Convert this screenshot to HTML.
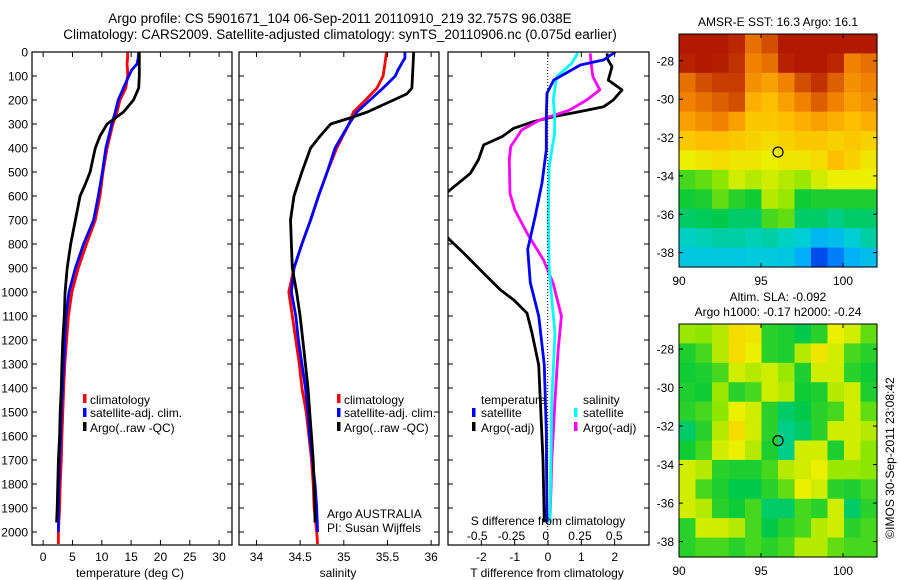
<!DOCTYPE html>
<html><head><meta charset="utf-8"><style>
html,body{margin:0;padding:0;background:#fff;}
svg{display:block;font-family:"Liberation Sans",sans-serif;}
</style></head><body>
<svg id="fig" width="900" height="580" viewBox="0 0 900 580" xmlns="http://www.w3.org/2000/svg">
<rect width="900" height="580" fill="#fff"/>
<text x="340" y="23" font-size="13.5" text-anchor="middle">Argo profile: CS 5901671_104 06-Sep-2011 20110910_219 32.757S 96.038E</text>
<text x="340" y="39" font-size="13.5" text-anchor="middle">Climatology: CARS2009. Satellite-adjusted climatology: synTS_20110906.nc (0.075d earlier)</text>
<g id="g"></g>
</svg>
<script>
// ---------- data ----------
const depthClim = [0,25,50,75,100,150,200,250,300,400,500,600,700,800,900,1000,1100,1200,1300,1400,1500,1600,1700,1800,1900,2000,2050];
const tempClim  = [14.4,14.4,14.3,14.4,14.4,14.1,13.1,12.6,11.9,10.9,10.2,9.7,8.9,7.4,6.0,4.9,4.3,4.0,3.7,3.5,3.35,3.2,3.1,2.9,2.8,2.6,2.6];
const depthSat  = [0,25,50,75,100,150,200,250,300,400,500,600,700,800,900,1000,1100,1200,1300,1400,1500,1600,1700,1800,1900,2000];
const tempSat   = [16.3,16.2,16.0,15.1,14.6,13.7,12.8,12.3,11.7,10.7,10.1,9.4,8.6,6.9,5.5,4.4,3.9,3.7,3.5,3.3,3.1,3.0,2.8,2.7,2.6,2.6];
const depthArgo = [0,50,100,150,200,250,300,350,400,500,550,600,700,800,900,1000,1100,1200,1300,1400,1500,1600,1700,1800,1900,1960];
const tempArgo  = [16.4,16.4,16.4,16.3,15.4,13.7,10.9,9.7,8.9,8.0,7.2,6.3,5.5,4.7,4.1,3.75,3.6,3.35,3.2,3.1,2.9,2.8,2.6,2.5,2.4,2.3];
const salClim   = [35.49,35.48,35.47,35.46,35.45,35.38,35.25,35.11,35.06,34.92,34.81,34.71,34.62,34.52,34.43,34.37,34.41,34.45,34.49,34.52,34.57,34.60,34.63,34.65,34.66,34.69,34.70];
const salSat    = [35.70,35.70,35.66,35.62,35.59,35.45,35.30,35.15,35.06,34.90,34.81,34.71,34.62,34.52,34.43,34.40,34.45,34.48,34.52,34.56,34.59,34.61,34.64,34.67,34.69,34.70];
const depthSalArgo = [0,150,175,200,250,275,300,350,400,500,600,700,800,900,1000,1100,1200,1300,1400,1500,1600,1700,1800,1900,1960];
const salArgo   = [35.80,35.78,35.72,35.57,35.27,35.07,34.85,34.73,34.62,34.52,34.43,34.39,34.40,34.41,34.46,34.50,34.53,34.56,34.59,34.61,34.63,34.65,34.66,34.67,34.67];
const depthTdArgo = [6,33,61,117,158,200,228,248,269,290,318,353,387,450,506,582,650,700,776,838,922,991,1033,1088,1171,1304,1450,1700,1960];
const tDiffArgo   = [1.77,1.8,1.92,1.81,2.22,1.96,1.67,0.97,0.17,-0.43,-1.03,-1.38,-1.93,-2.09,-2.33,-3.0,-3.3,-3.3,-3.0,-2.53,-1.93,-1.43,-1.03,-0.63,-0.48,-0.28,-0.23,-0.15,-0.11];
const depthTdSat = [0,33,54,117,172,269,408,546,683,822,961,1017,1100,1304,1583,1960];
const tDiffSat   = [2.02,1.67,0.97,0.17,-0.03,-0.05,-0.05,-0.18,-0.38,-0.61,-0.53,-0.43,-0.28,-0.11,-0.05,-0.03];
const depthSdSat = [4,47,103,200,256,339,478,686,894,1000,1171,1450,1960];
const sDiffSat   = [0.22,0.175,0.066,0.04,0.05,0.05,0.01,0.005,0.01,0.025,0.053,0.03,0.017];
const depthSdArgo = [6,61,103,158,200,242,283,325,394,450,589,658,756,867,964,1010,1100,1240,1450,1700,1960];
const sDiffArgo   = [0.31,0.32,0.33,0.38,0.285,0.16,-0.056,-0.19,-0.27,-0.28,-0.275,-0.24,-0.15,-0.03,0.04,0.06,0.10,0.077,0.053,0.03,0.017];
const depthTicks = [0,100,200,300,400,500,600,700,800,900,1000,1100,1200,1300,1400,1500,1600,1700,1800,1900,2000];
const tempTicks = [0,5,10,15,20,25,30];
const salTicks = [34,34.5,35,35.5,36];
const tdTicks = [-2,-1,0,1,2];
const sdTickLabels = ["-0.5","-0.25","0","0.25","0.5"];
const sdTicks = [-0.5,-0.25,0,0.25,0.5];
const lonTicks = [90,95,100];
const latTicks = [-28,-30,-32,-34,-36,-38];
// SST map values (colormap index 0..1), rows top(north) to bottom, 12 cols lon 90..102
const sstGrid = [
[.95,.95,.95,.92,.82,.86,.95,.95,.95,.95,.95,.95],
[.93,.95,.94,.9,.8,.82,.93,.95,.95,.92,.8,.82],
[.82,.86,.88,.88,.78,.76,.8,.86,.9,.84,.78,.8],
[.8,.82,.84,.86,.74,.72,.76,.8,.84,.8,.76,.78],
[.76,.78,.8,.76,.7,.7,.72,.74,.76,.74,.72,.74],
[.7,.72,.72,.7,.68,.66,.68,.7,.7,.68,.7,.68],
[.62,.64,.66,.64,.64,.62,.64,.64,.66,.72,.68,.64],
[.5,.52,.55,.6,.58,.6,.58,.56,.6,.62,.62,.62],
[.46,.47,.52,.48,.46,.58,.56,.46,.47,.47,.47,.47],
[.42,.43,.44,.42,.42,.5,.52,.42,.42,.4,.42,.42],
[.36,.37,.38,.38,.37,.38,.36,.34,.28,.3,.34,.38],
[.32,.32,.32,.32,.33,.33,.32,.26,.14,.2,.27,.3]];
const slaGrid = [
[.56,.55,.58,.66,.64,.48,.47,.44,.48,.62,.6,.52],
[.47,.5,.58,.66,.62,.48,.47,.58,.64,.6,.5,.48],
[.46,.47,.5,.6,.58,.6,.56,.47,.6,.6,.48,.46],
[.47,.46,.56,.48,.5,.6,.58,.46,.47,.58,.6,.47],
[.48,.5,.55,.62,.6,.48,.42,.44,.48,.5,.6,.52],
[.42,.48,.58,.66,.6,.48,.4,.42,.48,.6,.6,.58],
[.46,.5,.6,.62,.58,.47,.4,.6,.6,.47,.6,.55],
[.6,.58,.48,.47,.47,.5,.58,.6,.62,.56,.56,.55],
[.6,.5,.47,.44,.44,.48,.52,.62,.6,.48,.47,.5],
[.6,.58,.48,.46,.5,.42,.42,.5,.48,.6,.42,.48],
[.48,.6,.6,.58,.5,.44,.48,.5,.58,.6,.48,.5],
[.48,.5,.5,.48,.5,.48,.5,.58,.58,.52,.5,.5]];

// ---------- helpers ----------
const NS="http://www.w3.org/2000/svg";
const G=document.getElementById('g');
function mk(tag,attrs,parent){const e=document.createElementNS(NS,tag);for(const k in attrs)e.setAttribute(k,attrs[k]);(parent||G).appendChild(e);return e;}
function txt(x,y,s,size,anchor,parent){const t=mk('text',{x:x,y:y,'font-size':size,'text-anchor':anchor||'start'},parent);t.textContent=s;return t;}
const yTop=52, yScale=0.24;
function yD(d){return yTop+d*yScale;}
const P1={x0:32,x1:232,v0:-1.9,v1:32.2};
const P2={x0:239,x1:439,v0:33.8,v1:36.09};
const P3={x0:448,x1:649,v0:-3,v1:3.03};
const PS={v0:-0.585,v1:0.88}; // s diff scale on panel 3 (137 px/unit, zero at 547.7)
function sx(p,v){return p.x0+(v-p.v0)/(p.v1-p.v0)*(p.x1-p.x0);}
function sdx(v){return 547.7+v*137;}
const FT=52, FB=545;

function frame(p,name){
  const r=mk('rect',{x:p.x0,y:FT,width:p.x1-p.x0,height:FB-FT,fill:'none',stroke:'#000','stroke-width':1.2});
  
  
  depthTicks.forEach(d=>{const y=yD(d);
    mk('line',{x1:p.x0,y1:y,x2:p.x0+5,y2:y,stroke:'#000'});
    mk('line',{x1:p.x1,y1:y,x2:p.x1-5,y2:y,stroke:'#000'});});
}
function profile(p,vals,depths,color,name,fx){
  const pts=vals.map((v,i)=>(fx?fx(v):sx(p,v)).toFixed(1)+','+yD(depths[i]).toFixed(1)).join(' ');
  const l=mk('polyline',{points:pts,fill:'none',stroke:color,'stroke-width':2.8,'stroke-linejoin':'round'},p.clip);
  
  
}
// clip paths
const defs=mk('defs',{});
[P1,P2,P3].forEach((p,i)=>{const c=mk('clipPath',{id:'c'+i},defs);mk('rect',{x:p.x0,y:FT,width:p.x1-p.x0,height:FB-FT},c);
  p.clip=mk('g',{'clip-path':'url(#c'+i+')'});});

// panel 1
frame(P1,'temperature-panel');
tempTicks.forEach(t=>{const x=sx(P1,t);mk('line',{x1:x,y1:FB,x2:x,y2:FB-5,stroke:'#000'});mk('line',{x1:x,y1:FT,x2:x,y2:FT+5,stroke:'#000'});
  const l=txt(x,561,String(t),12,'middle');});
depthTicks.forEach(d=>{const l=txt(28,yD(d)+4.5,String(d),12,'end');});
profile(P1,tempClim,depthClim,'#f00','temp-climatology-line');
profile(P1,tempSat,depthSat,'#00f','temp-satellite-line');
profile(P1,tempArgo,depthArgo,'#000','temp-argo-line');
// panel 2
frame(P2,'salinity-panel');
salTicks.forEach(t=>{const x=sx(P2,t);mk('line',{x1:x,y1:FB,x2:x,y2:FB-5,stroke:'#000'});mk('line',{x1:x,y1:FT,x2:x,y2:FT+5,stroke:'#000'});
  const l=txt(x,561,String(t),12,'middle');});
profile(P2,salClim,depthClim,'#f00','sal-climatology-line');
profile(P2,salSat,depthSat,'#00f','sal-satellite-line');
profile(P2,salArgo,depthSalArgo,'#000','sal-argo-line');
// panel 3
frame(P3,'difference-panel');
mk('line',{x1:547.7,y1:FT,x2:547.7,y2:FB,stroke:'#000','stroke-width':1,'stroke-dasharray':'1,2'});
tdTicks.forEach(t=>{const x=sx(P3,t);mk('line',{x1:x,y1:FB,x2:x,y2:FB-5,stroke:'#000'});mk('line',{x1:x,y1:FT,x2:x,y2:FT+5,stroke:'#000'});
  const l=txt(x,561,String(t),12,'middle');});
sdTicks.forEach((t,i)=>{const l=txt(sdx(t)-2,540,sdTickLabels[i],12,'middle');});
profile(P3,tDiffArgo,depthTdArgo,'#000','tdiff-argo-line',v=>sx(P3,v));
profile(P3,sDiffArgo,depthSdArgo,'#f0f','sdiff-argo-line',sdx);
profile(P3,sDiffSat,depthSdSat,'#0ff','sdiff-satellite-line',sdx);
profile(P3,tDiffSat,depthTdSat,'#00f','tdiff-satellite-line',v=>sx(P3,v));

// colormap
const stops=[[0,[10,10,150]],[.15,[0,80,240]],[.25,[0,170,255]],[.35,[0,210,210]],[.45,[0,200,60]],[.55,[140,230,0]],[.62,[235,240,0]],[.72,[255,190,0]],[.8,[240,130,0]],[.88,[200,60,0]],[1,[160,0,0]]];
function cmap(v){for(let i=1;i<stops.length;i++){if(v<=stops[i][0]){const a=stops[i-1],b=stops[i],f=(v-a[0])/(b[0]-a[0]);
  return 'rgb('+a[1].map((c,k)=>Math.round(c+(b[1][k]-c)*f)).join(',')+')';}}return 'rgb(160,0,0)';}
function map(grid,X0,X1,Y0,Y1,latTop,latBot,name,circLat){
  const cg=mk('g',{});
  const rows=grid.length,cols=grid[0].length,cw=(X1-X0)/cols,ch=(Y1-Y0)/rows;
  grid.forEach((r,i)=>r.forEach((v,j)=>{const c=mk('rect',{x:X0+j*cw,y:Y0+i*ch,width:cw+0.6,height:ch+0.6,fill:cmap(v)},cg);
    }));
  mk('rect',{x:X0,y:Y0,width:X1-X0,height:Y1-Y0,fill:'none',stroke:'#000'});
  const lx=v=>X0+(v-90)*16.4, ly=v=>Y0+(latTop-v)/(latTop-latBot)*(Y1-Y0);
  lonTicks.forEach(t=>{const x=lx(t);mk('line',{x1:x,y1:Y0,x2:x,y2:Y0+4,stroke:'#000'});mk('line',{x1:x,y1:Y1,x2:x,y2:Y1-4,stroke:'#000'});
    const l=txt(x,Y1+18,String(t),12,'middle');});
  latTicks.forEach(t=>{const y=ly(t);mk('line',{x1:X0,y1:y,x2:X0+4,y2:y,stroke:'#000'});mk('line',{x1:X1,y1:y,x2:X1-4,y2:y,stroke:'#000'});
    const l=txt(X0-5,y+4.5,String(t),12,'end');});
  const c=mk('circle',{cx:lx(96.038),cy:ly(-32.757),r:5,fill:'none',stroke:'#000','stroke-width':1.2});
  
}
map(sstGrid,679,877,34,267,-26.6,-38.75,'sst-map');
map(slaGrid,679,877,324,557,-26.7,-38.8,'sla-map');
</script>
<svg style="position:absolute;left:0;top:0" width="900" height="580" xmlns="http://www.w3.org/2000/svg" font-family="Liberation Sans, sans-serif" font-size="12">
<text x="778" y="26" text-anchor="middle">AMSR-E SST: 16.3 Argo: 16.1</text>
<text x="778" y="301" text-anchor="middle">Altim. SLA: -0.092</text>
<text x="778" y="316" text-anchor="middle">Argo h1000: -0.17 h2000: -0.24</text>
<text transform="translate(894,458) rotate(-90)" text-anchor="middle">©IMOS 30-Sep-2011 23:08:42</text>
<text x="130" y="577" text-anchor="middle">temperature (deg C)</text>
<text x="338" y="577" text-anchor="middle">salinity</text>
<text x="547" y="577" text-anchor="middle">T difference from climatology</text>
<text x="548" y="525" text-anchor="middle">S difference from climatology</text>
<text x="327" y="518">Argo AUSTRALIA</text>
<text x="327" y="532">PI: Susan Wijffels</text>
<g>
<rect x="83" y="394" width="3.5" height="9" fill="#f00"/><text x="90" y="404">climatology</text>
<rect x="83" y="408" width="3.5" height="9" fill="#00f"/><text x="90" y="417">satellite-adj. clim.</text>
<rect x="83" y="422" width="3.5" height="9" fill="#000"/><text x="90" y="432">Argo(..raw -QC)</text>
</g>
<g>
<rect x="337" y="394" width="3.5" height="9" fill="#f00"/><text x="344" y="404">climatology</text>
<rect x="337" y="408" width="3.5" height="9" fill="#00f"/><text x="344" y="417">satellite-adj. clim.</text>
<rect x="337" y="422" width="3.5" height="9" fill="#000"/><text x="344" y="432">Argo(..raw -QC)</text>
</g>
<g>
<text x="481" y="404">temperature</text><text x="583" y="404">salinity</text>
<rect x="472" y="408" width="3.5" height="9" fill="#00f"/><text x="481" y="417">satellite</text>
<rect x="472" y="422" width="3.5" height="9" fill="#000"/><text x="481" y="432">Argo(-adj)</text>
<rect x="574" y="408" width="3.5" height="9" fill="#0ff"/><text x="583" y="417">satellite</text>
<rect x="574" y="422" width="3.5" height="9" fill="#f0f"/><text x="583" y="432">Argo(-adj)</text>
</g>
</svg>
</body></html>
